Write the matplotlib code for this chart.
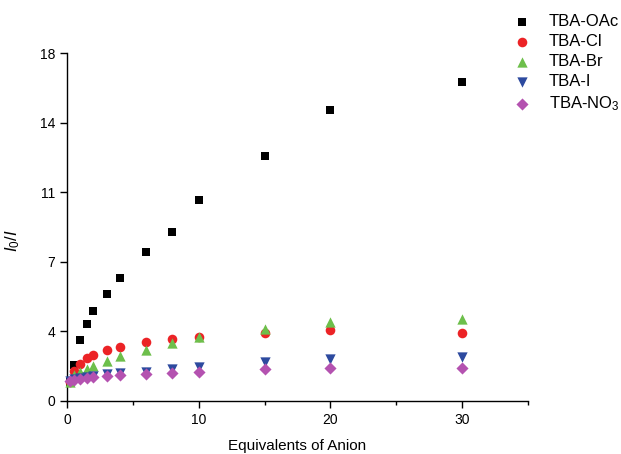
# titration plot: I0/I vs equivalents of anion for several TBA salts
import matplotlib
matplotlib.use('Agg')
import matplotlib.pyplot as plt
import numpy as np
from matplotlib.ticker import MultipleLocator, FormatStrFormatter

plt.rcParams['font.family'] = ['Liberation Sans', 'DejaVu Sans']
plt.rcParams['mathtext.fontset'] = 'custom'
plt.rcParams['mathtext.rm'] = 'Liberation Sans'
plt.rcParams['mathtext.it'] = 'Liberation Sans:italic'

# equivalents of anion added
equiv = [0.2, 0.5, 1, 1.5, 2, 3, 4, 6, 8, 10, 15, 20, 30]

# I0/I for each salt
oac = [1.0, 1.87, 3.17, 3.96, 4.66, 5.52, 6.34, 7.69, 8.73, 10.39, 12.65, 15.06, 16.52]
cl = [1.0, 1.57, 1.92, 2.22, 2.37, 2.65, 2.79, 3.05, 3.20, 3.31, 3.52, 3.65, 3.50]
br = [1.0, 1.35, 1.50, 1.65, 1.80, 2.09, 2.30, 2.65, 3.00, 3.31, 3.70, 4.09, 4.26]
iod = [1.05, 1.15, 1.20, 1.25, 1.30, 1.38, 1.44, 1.51, 1.63, 1.75, 2.01, 2.15, 2.27]
no3 = [1.05, 1.10, 1.15, 1.20, 1.25, 1.30, 1.35, 1.40, 1.45, 1.49, 1.63, 1.71, 1.71]

series = [
    (oac, 'TBA-OAc', 's', 'black', 40),
    (cl, 'TBA-Cl', 'o', '#ec2326', 48),
    (br, 'TBA-Br', '^', '#6dbf4b', 55),
    (iod, 'TBA-I', 'v', '#2d4a9f', 55),
    (no3, 'TBA-NO$_3$', 'D', '#b452b0', 38),
]

fig = plt.figure(figsize=(6.21, 4.54), dpi=100)
ax = fig.add_axes([0.108, 0.117, 0.742, 0.766])

for vals, name, mk, col, sz in series:
    ax.scatter(equiv, vals, marker=mk, s=sz, color=col, label=name,
               linewidths=0, clip_on=False, zorder=3)

ax.set_xlim(0, 35)
ax.set_ylim(0, 18)

# odd looking y labels come from ticks every 3.6 rounded to integers
ax.set_yticks(np.linspace(0, 18, 6))
ax.yaxis.set_major_formatter(FormatStrFormatter('%.0f'))
ax.xaxis.set_major_locator(MultipleLocator(10))
ax.xaxis.set_minor_locator(MultipleLocator(5))

for s in ['top', 'right']:
    ax.spines[s].set_visible(False)
ax.spines['left'].set_linewidth(1.0)
ax.spines['bottom'].set_linewidth(1.0)
ax.tick_params(which='major', direction='out', length=5, width=1, labelsize=10)
ax.tick_params(which='minor', direction='out', length=3, width=1)

ax.set_xlabel('Equivalents of Anion', fontsize=11, labelpad=9)
ax.set_ylabel(r'$I_0/I$', fontsize=12)
ax.yaxis.set_label_coords(-0.097, 0.46)

leg = ax.legend(loc='upper left', bbox_to_anchor=(0.795, 0.995),
                bbox_transform=fig.transFigure, frameon=False, fontsize=12,
                handletextpad=0.6, labelspacing=0.3, borderaxespad=0.3,
                scatterpoints=1)

fig.savefig('out.png', dpi=100)
